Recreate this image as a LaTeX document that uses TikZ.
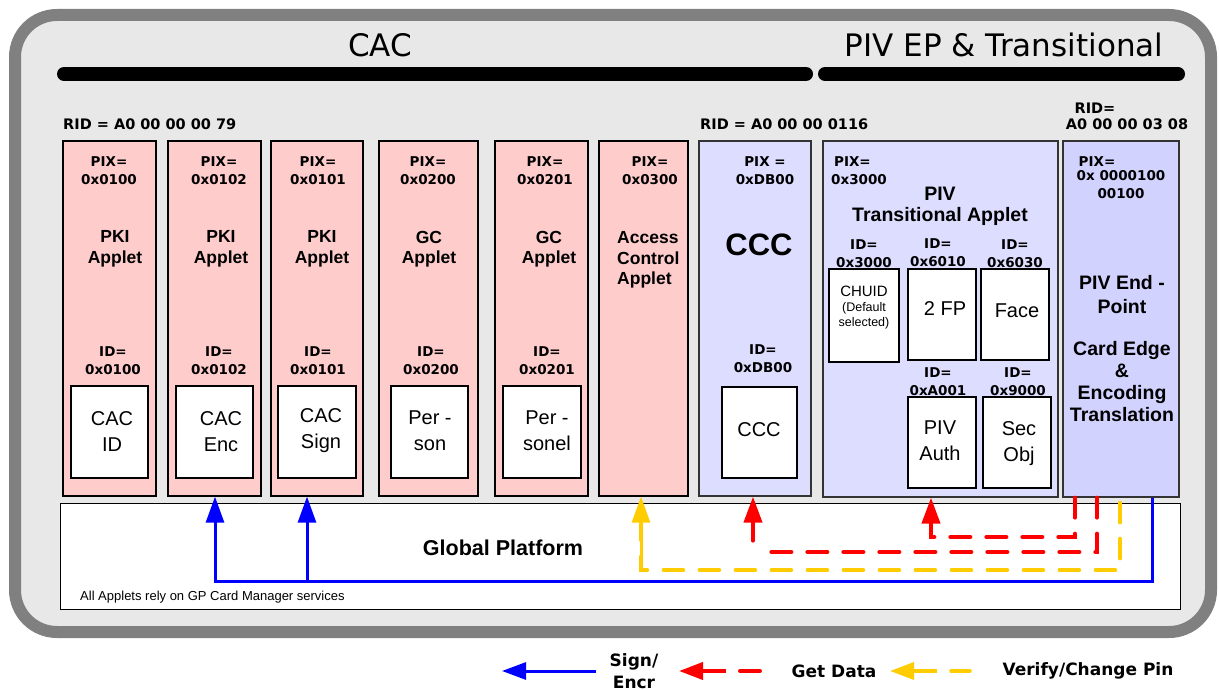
\documentclass[tikz,border=0pt]{standalone}
\usepackage{fontspec}
\setmainfont{Liberation Sans}
\newfontfamily\dvf{DejaVu Sans}
\usetikzlibrary{arrows.meta}
\definecolor{bgc}{HTML}{E8E8E8}
\definecolor{framec}{HTML}{808080}
\definecolor{pinkc}{HTML}{FFCCCC}
\definecolor{lavc}{HTML}{DDDDFF}
\definecolor{epc}{HTML}{D2D2FF}
\definecolor{sigc}{HTML}{0000FF}
\definecolor{getc}{HTML}{FF0000}
\definecolor{verc}{HTML}{FFCC00}
\begin{document}
\begin{tikzpicture}[x=1pt,y=-1pt,
  col/.style={draw=black,line width=1.3pt,fill=pinkc,inner sep=0,minimum height=355pt},
  bcol/.style={draw=black!80,line width=1.3pt,fill=lavc,inner sep=0},
  inbox/.style={draw=black,line width=1.1pt,fill=white,inner sep=0,minimum width=77pt,minimum height=92pt},
  lbl/.style={font=\dvf\bfseries\fontsize{13.5}{18}\selectfont,align=center,inner sep=0},
  rid/.style={font=\dvf\bfseries\fontsize{14.5}{16}\selectfont,inner sep=0},
  app/.style={font=\bfseries\fontsize{17.5}{20.5}\selectfont,align=center,inner sep=0},
  inn/.style={font=\fontsize{20}{26}\selectfont,align=center,inner sep=0},
  ttl/.style={font=\dvf\fontsize{31}{34}\selectfont,inner sep=0},
  leg/.style={font=\dvf\bfseries\fontsize{17}{22}\selectfont,align=center,inner sep=0},
  signl/.style={draw=sigc,line width=3pt},
  getl/.style={draw=getc,line width=4pt,line cap=round,dash pattern=on 20pt off 16pt},
  verl/.style={draw=verc,line width=3.5pt,line cap=round,dash pattern=on 20pt off 16pt},
  bigtip/.style={-{Triangle[length=26pt,width=18pt]}},
  legtip/.style={-{Triangle[length=24pt,width=17pt]}}
]
\useasboundingbox (0,0) rectangle (1219,690);
\fill[white] (0,0) rectangle (1219,690);
% frame
\draw[line width=12pt,draw=framec,fill=bgc,rounded corners=42pt] (15,15) rectangle (1211,632);
% titles and bars
\node[ttl] (tcac) at (380,45) {CAC};
\node[ttl] (tpiv) at (1004,45) {PIV EP \& Transitional};
\draw[line width=14pt,line cap=round] (64,74) -- (806,74);
\draw[line width=14pt,line cap=round] (825,74) -- (1178,74);
% RIDs
\node[rid,anchor=west] (rid1) at (63,124) {RID = A0 00 00 00 79};
\node[rid,anchor=west] (rid2) at (700,124) {RID = A0 00 00 0116};
\node[rid] (rid3a) at (1095,108) {RID=};
\node[rid] (rid3b) at (1127,124) {A0 00 00 03 08};
% columns
\node[col,minimum width=93pt] (c1) at (109.5,318.5) {};
\node[col,minimum width=93pt] (c2) at (214.5,318.5) {};
\node[col,minimum width=92pt] (c3) at (317,318.5) {};
\node[col,minimum width=99pt] (c4) at (428.5,318.5) {};
\node[col,minimum width=93pt] (c5) at (541.5,318.5) {};
\node[col,minimum width=89pt] (c6) at (643.5,318.5) {};
\node[bcol,minimum width=112pt,minimum height=355pt] (ccc) at (755,318.5) {};
\node[bcol,minimum width=235pt,minimum height=356pt] (piv) at (940.5,319) {};
\node[bcol,fill=epc,minimum width=116pt,minimum height=356pt] (ep) at (1121,319) {};
% column labels
\node[lbl] (p1) at (109,171) {PIX=\\0x0100};
\node[lbl] (p2) at (219,171) {PIX=\\0x0102};
\node[lbl] (p3) at (318,171) {PIX=\\0x0101};
\node[lbl] (p4) at (428,171) {PIX=\\0x0200};
\node[lbl] (p5) at (545,171) {PIX=\\0x0201};
\node[lbl] (p6) at (650,171) {PIX=\\0x0300};
\node[lbl] (p7) at (765,171) {PIX =\\0xDB00};
\node[app] (a1) at (115,249) {PKI\\Applet};
\node[app] (a2) at (221,249) {PKI\\Applet};
\node[app] (a3) at (322,249) {PKI\\Applet};
\node[app] (a4) at (429,249) {GC\\Applet};
\node[app] (a5) at (549,249) {GC\\Applet};
\node[app,align=left,anchor=west] (a6) at (617,260) {Access\\Control\\Applet};
\node[font=\bfseries\fontsize{31}{34}\selectfont,inner sep=0] (a7) at (759,245) {CCC};
\node[lbl] (d1) at (113,360.5) {ID=\\0x0100};
\node[lbl] (d2) at (219,360.5) {ID=\\0x0102};
\node[lbl] (d3) at (318,360.5) {ID=\\0x0101};
\node[lbl] (d4) at (431,360.5) {ID=\\0x0200};
\node[lbl] (d5) at (547,360.5) {ID=\\0x0201};
\node[lbl] (d7) at (763,359) {ID=\\0xDB00};
% inner boxes
\node[inbox] (i1) at (109.5,432) {};
\node[inbox] (i2) at (214.5,432) {};
\node[inbox,minimum width=78pt] (i3) at (317,432) {};
\node[inbox] (i4) at (429.5,432) {};
\node[inbox,minimum width=78pt] (i5) at (542,432) {};
\node[inbox,minimum width=75pt,minimum height=91pt] (i7) at (759.5,432.5) {};
\node[inn] (n1) at (112,432) {CAC\\ID};
\node[inn] (n2) at (221,432) {CAC\\Enc};
\node[inn] (n3) at (321,431) {CAC\\Sign};
\node[inn] (n4) at (430,431) {Per -\\son};
\node[inn] (n5) at (547,431) {Per -\\sonel};
\node[inn] (n7) at (759,430) {CCC};
% PIV transitional
\node[lbl,align=left] (pp) at (859,170.5) {\hspace*{3pt}PIX=\\0x3000};
\node[font=\bfseries\fontsize{19.5}{21}\selectfont,align=center,inner sep=0] (pt) at (940,206.5) {PIV\\Transitional Applet};
\node[lbl] (dch) at (864,254) {ID=\\0x3000};
\node[lbl] (dfp) at (938,253) {ID=\\0x6010};
\node[lbl] (dfa) at (1015,254) {ID=\\0x6030};
\node[lbl] (dau) at (938,381.5) {ID=\\0xA001};
\node[lbl] (dse) at (1018,381.5) {ID=\\0x9000};
\node[inbox,line width=2.6pt,minimum width=70pt,minimum height=93pt] (chuid) at (864,315.5) {};
\node[inbox,minimum width=68pt,minimum height=91pt] (fp) at (942,314.5) {};
\node[inbox,minimum width=68pt,minimum height=91pt] (face) at (1015,314.5) {};
\node[inbox,minimum width=68pt,minimum height=91pt] (auth) at (942,442.5) {};
\node[inbox,minimum width=68pt,minimum height=91pt] (sec) at (1017,442.5) {};
\node[font=\fontsize{15}{17}\selectfont,inner sep=0] (tch) at (864,291) {CHUID};
\node[font=\fontsize{12.5}{15}\selectfont,align=center,inner sep=0] (tde) at (864,315.5) {(Default\\selected)};
\node[inn] (tfp) at (945,309) {2 FP};
\node[inn] (tfa) at (1017,311) {Face};
\node[inn] (tau) at (940,441) {PIV\\Auth};
\node[inn] (tse) at (1019,444) {Sec\\Obj};
% PIV end-point
\node[lbl] (ep1) at (1097,162) {PIX=};
\node[lbl] (ep2) at (1121,185) {0x 0000100\\00100};
\node[font=\bfseries\fontsize{19.5}{24}\selectfont,align=center,inner sep=0] (ep3) at (1122,295) {PIV End -\\Point};
\node[font=\bfseries\fontsize{19.5}{22}\selectfont,align=center,inner sep=0] (ep4) at (1122,382) {Card Edge\\\&\\Encoding\\Translation};
% global platform
\node[draw=black,line width=0.8pt,fill=white,minimum width=1120pt,minimum height=106pt,inner sep=0] (gp) at (620,556) {};
\node[font=\bfseries\fontsize{21.5}{24}\selectfont,inner sep=0] (gpt) at (503,548) {Global Platform};
\node[font=\fontsize{13}{15}\selectfont,anchor=west,inner sep=0] (gpn) at (80,597) {All Applets rely on GP Card Manager services};
% connector coordinates
\coordinate (bx) at (1152,0);
\coordinate (by) at (0,581);
\coordinate (b3) at (307,0);
\coordinate (b2) at (215,0);
\coordinate (r1x) at (1075,0);
\coordinate (r1y) at (0,537);
\coordinate (r1t) at (931,0);
\coordinate (r2x) at (1097,0);
\coordinate (r2y) at (0,552);
\coordinate (r2t) at (753,0);
\coordinate (r2e) at (760,0);
\coordinate (yx) at (1120,0);
\coordinate (yy) at (0,570);
\coordinate (yt) at (641,0);
% sign / encr
\draw[signl,bigtip] (ep.south -| bx) -- (bx |- by) -- (b2 |- by) -- (c2.south -| b2);
\draw[signl,bigtip] (b3 |- by) -- (c3.south -| b3);
% verify
\draw[verl] (gp.north -| yx) -- (yx |- yy) -- (yt |- yy) -- ([yshift=-20pt]c6.south -| yt);
\draw[draw=verc,line width=3pt,bigtip] ([yshift=-74pt]c6.south -| yt) -- (c6.south -| yt);
% get data
\draw[getl] (ep.south -| r1x) -- (r1x |- r1y) -- (r1t |- r1y) -- ([yshift=-30pt]piv.south -| r1t);
\draw[draw=getc,line width=4pt,bigtip] ([yshift=-40pt]piv.south -| r1t) -- (piv.south -| r1t);
\draw[getl] (ep.south -| r2x) -- (r2x |- r2y) -- (r2e |- r2y);
\draw[draw=getc,line width=4pt,line cap=round,bigtip] ([yshift=-44pt]ccc.south -| r2t) -- (ccc.south -| r2t);
% legend
\coordinate (l1a) at (596,671);
\coordinate (l1b) at (502,671);
\coordinate (l2a) at (726,671);
\coordinate (l2b) at (679,671);
\coordinate (l2c) at (740,671);
\coordinate (l2d) at (760,671);
\coordinate (l3a) at (937,671);
\coordinate (l3b) at (890,671);
\coordinate (l3c) at (951,671);
\coordinate (l3d) at (970,671);
\draw[signl,legtip] (l1a) -- (l1b);
\node[leg] (lg1) at (634,671) {Sign/\\Encr};
\draw[draw=getc,line width=4pt,legtip] (l2a) -- (l2b);
\draw[draw=getc,line width=4pt,line cap=round] (l2c) -- (l2d);
\node[leg] (lg2) at (834,671) {Get Data};
\draw[draw=verc,line width=3.5pt,legtip] (l3a) -- (l3b);
\draw[draw=verc,line width=3.5pt,line cap=round] (l3c) -- (l3d);
\node[leg] (lg3) at (1088,671) {Verify/Change Pin};
\end{tikzpicture}
\end{document}
